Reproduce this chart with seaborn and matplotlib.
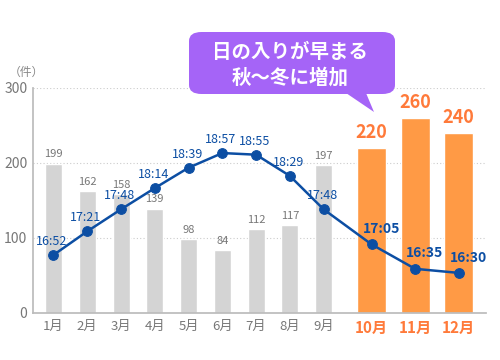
import numpy as np
import seaborn as sns
import matplotlib.pyplot as plt
from matplotlib.patches import FancyBboxPatch, Polygon

# データ
months = ["1月", "2月", "3月", "4月", "5月", "6月", "7月", "8月", "9月", "10月", "11月", "12月"]
counts = [199, 162, 158, 139, 98, 84, 112, 117, 197, 220, 260, 240]
sunset = ["16:52", "17:21", "17:48", "18:14", "18:39", "18:57", "18:55", "18:29", "17:48", "17:05", "16:35", "16:30"]
yticks = [0, 100, 200, 300]
bubble_text = "日の入りが早まる\n秋〜冬に増加"

GRAY = "#d4d4d4"
ORANGE = "#ff9a45"
ORANGE_TXT = "#ff7a3a"
BLUE = "#0c4ea3"
PURPLE = "#a564f7"

sns.set_theme(style="white")
plt.rcParams["font.family"] = ["Noto Sans CJK JP", "DejaVu Sans"]

sunset_min = [int(s.split(":")[0]) * 60 + int(s.split(":")[1]) for s in sunset]
hi = 9  # 10月以降を強調

# 横位置: 10〜12月は間隔を広げる
x_pos = np.array(list(range(hi)) + [9.42, 10.71, 12.0])

fig = plt.figure(figsize=(5, 3.6), dpi=100)
ax = fig.add_axes([0.066, 0.131, 0.906, 0.625])

sns.barplot(x=x_pos[:hi], y=counts[:hi], native_scale=True, color=GRAY, width=0.504,
            saturation=1, ax=ax)
sns.barplot(x=x_pos[hi:], y=counts[hi:], native_scale=True, color=ORANGE, width=0.667,
            saturation=1, ax=ax)

ax.set_ylim(0, 300)
ax.set_xlim(-0.607, 12.81)
ax.set_yticks(yticks)
ax.set_xticks(x_pos, months)
ax.tick_params(axis="y", labelsize=10, labelcolor="#777777", length=0, pad=4)
ax.tick_params(axis="x", labelsize=9.5, labelcolor="#777777", length=0, pad=5)
for lbl in ax.get_xticklabels()[hi:]:
    lbl.set_color(ORANGE_TXT)
    lbl.set_fontweight("bold")
    lbl.set_fontsize(11)
for y in yticks[1:]:
    ax.axhline(y, color="#cccccc", lw=0.8, ls=(0, (1, 2)), zorder=0)
for s in ["top", "right"]:
    ax.spines[s].set_visible(False)
ax.spines["left"].set_color("#bbbbbb")
ax.spines["bottom"].set_color("#bbbbbb")
ax.set_xlabel("")
ax.set_ylabel("")

# 件数ラベル
for i, v in enumerate(counts):
    if i < hi:
        ax.annotate(str(v), (x_pos[i], v), xytext=(0, 3), textcoords="offset points",
                    ha="center", va="bottom", fontsize=8, color="#777777")
    else:
        ax.annotate(str(v), (x_pos[i], v), xytext=(0, 4), textcoords="offset points",
                    ha="center", va="bottom", fontsize=13, color=ORANGE_TXT,
                    fontweight="bold", annotation_clip=False)

# 日の入り時刻(第2軸)
ax2 = ax.twinx()
sns.lineplot(x=x_pos, y=sunset_min, color=BLUE, lw=1.8, marker="o", markersize=7,
             markeredgecolor=BLUE, ax=ax2)
ax2.set_ylim(941, 1217)
ax2.set_yticks([])
ax2.set_ylabel("")
for s in ax2.spines.values():
    s.set_visible(False)
for i, (t, m) in enumerate(zip(sunset, sunset_min)):
    if i < hi:
        ax2.annotate(t, (x_pos[i], m), xytext=(-1, 5), textcoords="offset points",
                     ha="center", va="bottom", fontsize=9, color=BLUE)
    else:
        ax2.annotate(t, (x_pos[i], m), xytext=(7, 6), textcoords="offset points",
                     ha="center", va="bottom", fontsize=10, color=BLUE,
                     fontweight="bold")

fig.text(0.052, 0.80, "（件）", fontsize=8.5, color="#888888", ha="center", va="center")

# 吹き出し
W, H = 500, 360
bx0, bx1, by0, by1 = 189, 395, 32, 94
box = FancyBboxPatch((bx0 / W, 1 - by1 / H), (bx1 - bx0) / W, (by1 - by0) / H,
                     boxstyle="round,pad=0,rounding_size=0.025", transform=fig.transFigure,
                     facecolor=PURPLE, edgecolor="none", zorder=10)
fig.patches.append(box)
tail = Polygon([(346 / W, 1 - 93 / H), (374 / W, 1 - 112 / H), (366 / W, 1 - 93 / H)],
               closed=True, transform=fig.transFigure, facecolor=PURPLE,
               edgecolor="none", zorder=10)
fig.patches.append(tail)
fig.text(290 / W, 1 - 65 / H, bubble_text, ha="center", va="center", fontsize=14,
         color="white", fontweight="bold", linespacing=1.35, zorder=11)

fig.savefig("out.png", dpi=100)
